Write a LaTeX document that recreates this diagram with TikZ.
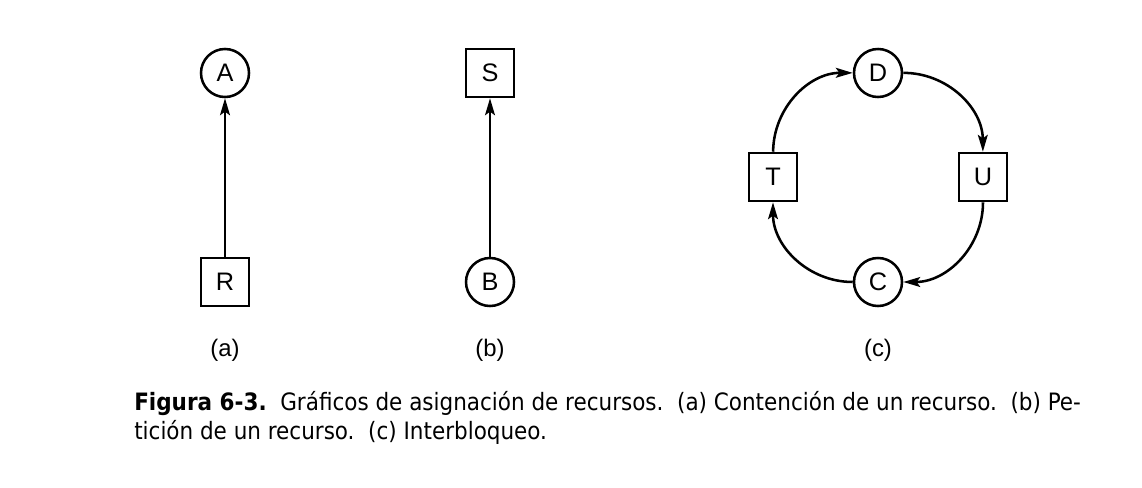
\documentclass[tikz,border=0pt]{standalone}
\usepackage{fontspec}
\setmainfont{Liberation Sans}
\newfontfamily\capfont{DejaVu Sans Condensed}
\usetikzlibrary{arrows.meta, positioning}

\begin{document}
\begin{tikzpicture}[
    x=0.025cm, y=-0.025cm,
    line width=1.8pt,
    % Process and resource node styling
    base/.style={
        draw,
        inner sep=0pt,
        minimum size=1.2cm,
        font=\fontsize{18}{20}\selectfont
    },
    proc/.style={base, circle},
    res/.style={base, rectangle},
    % Typography helpers
    sub_node/.style={font=\fontsize{17}{20}\selectfont},
    cap_node/.style={font=\capfont\fontsize{17}{20.6}\selectfont, align=left, inner sep=0pt},
    >={Stealth[length=12pt, width=7pt, inset=2.5pt]}
]

    \useasboundingbox (0,0) rectangle (1142,487);

    % ==========================================
    % 1. HOLDING A RESOURCE
    % ==========================================
    \node[proc] (A) at (225,73) {A};
    \node[res] (R) at (225,282) {R};
    \node[sub_node] (la) at (225,350) {(a)};

    \draw[->] (R) -- (A);

    % ==========================================
    % 2. REQUESTING A RESOURCE
    % ==========================================
    \node[res] (S) at (490,73) {S};
    \node[proc] (B) at (490,282) {B};
    \node[sub_node] (lb) at (490,350) {(b)};

    \draw[->] (B) -- (S);

    % ==========================================
    % 3. DEADLOCK CYCLE
    % ==========================================
    \node[proc] (D) at (878,73) {D};
    \node[res] (U) at (983,177) {U};
    \node[proc] (C) at (878,282) {C};
    \node[res] (T) at (773,177) {T};
    \node[sub_node] (lc) at (878,350) {(c)};

    \draw[->] (T) to[bend left=45] (D);
    \draw[->] (D) to[bend left=45] (U);
    \draw[->] (U) to[bend left=45] (C);
    \draw[->] (C) to[bend left=45] (T);

    % Caption
    \node[cap_node, anchor=north west] (cap) at (133,390)
        {{\bfseries Figura 6-3.}\ \ Gráficos de asignación de recursos.\ \ (a) Contención de un recurso.\ \ (b) Pe-\\
         tición de un recurso.\ \ (c) Interbloqueo.};

\end{tikzpicture}
\end{document}
